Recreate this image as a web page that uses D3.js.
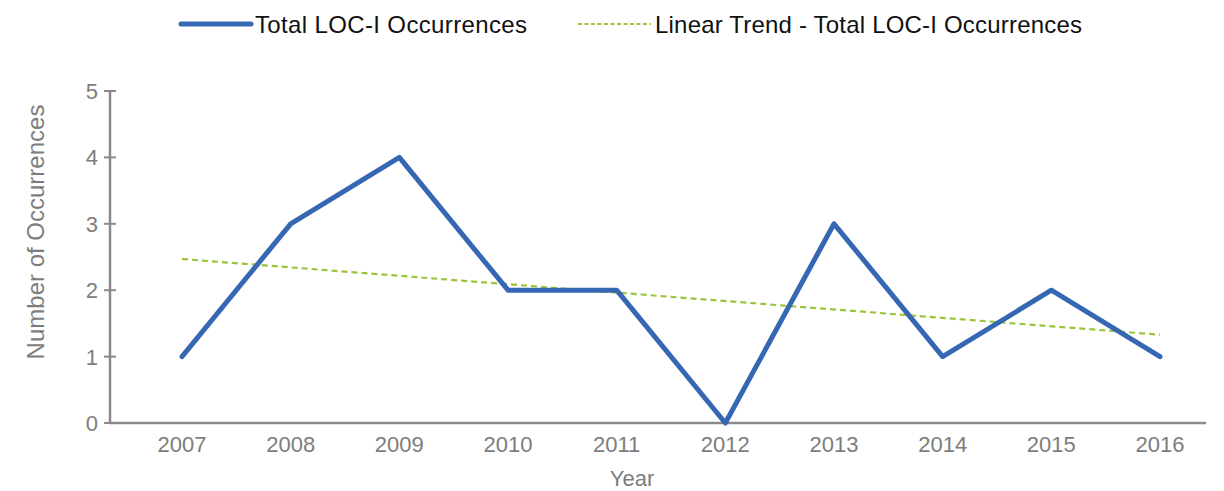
<!DOCTYPE html>
<html><head><meta charset="utf-8">
<script src="https://cdn.jsdelivr.net/npm/d3@7"></script>
<style>body{margin:0;background:#fff;} svg{display:block;font-family:"Liberation Sans",Arial,sans-serif;}</style>
</head><body>
<svg id="c" width="1224" height="491"></svg>
<script>
const years = [2007, 2008, 2009, 2010, 2011, 2012, 2013, 2014, 2015, 2016];
const occurrences = [1, 3, 4, 2, 2, 0, 3, 1, 2, 1];
const trendYears = [2007, 2016];
const trendValues = [2.47, 1.33];
const yTicks = [0, 1, 2, 3, 4, 5];
const seriesNames = ["Total LOC-I Occurrences", "Linear Trend - Total LOC-I Occurrences"];

const svg = d3.select("#c");
const axisColor = "#8a8a8a";
const labelColor = "#7d7d7d";
const blue = "#3667b3";
const green = "#9cc43a";

const x = d3.scalePoint().domain(years).range([182, 1160]);
const y = d3.scaleLinear().domain([0, 5]).range([423, 91]);
const axisLeft = 110, axisRight = 1206;

// axes lines
svg.append("line").attr("x1", axisLeft).attr("x2", axisRight).attr("y1", y(0)).attr("y2", y(0))
  .attr("stroke", axisColor).attr("stroke-width", 2.5);
svg.append("line").attr("x1", axisLeft).attr("x2", axisLeft).attr("y1", y(0)).attr("y2", y(5))
  .attr("stroke", axisColor).attr("stroke-width", 2.5);

// y ticks
const yg = svg.append("g");
yTicks.forEach(t => {
  yg.append("line").attr("x1", axisLeft - 6).attr("x2", axisLeft + 6).attr("y1", y(t)).attr("y2", y(t))
    .attr("stroke", axisColor).attr("stroke-width", 2);
  yg.append("text").attr("x", axisLeft - 12).attr("y", y(t)).attr("dy", "0.36em")
    .attr("text-anchor", "end").attr("font-size", 22).attr("fill", labelColor).text(t);
});

// x labels
svg.append("g").selectAll("text").data(years).join("text")
  .attr("x", d => x(d)).attr("y", 444).attr("dy", "0.36em").attr("text-anchor", "middle")
  .attr("font-size", 22).attr("fill", labelColor).text(d => d);

// axis titles
svg.append("text").attr("x", 632).attr("y", 478).attr("dy", "0.36em").attr("text-anchor", "middle")
  .attr("font-size", 22).attr("fill", labelColor).text("Year");
svg.append("text").attr("transform", "translate(35,232) rotate(-90)").attr("dy", "0.36em").attr("text-anchor", "middle")
  .attr("font-size", 24).attr("fill", labelColor).text("Number of Occurrences");

// trend line
svg.append("path").datum(trendYears.map((yr, i) => [yr, trendValues[i]]))
  .attr("d", d3.line().x(d => x(d[0])).y(d => y(d[1])))
  .attr("fill", "none").attr("stroke", green).attr("stroke-width", 2.2).attr("stroke-dasharray", "6,4");

// main line
svg.append("path").datum(years.map((yr, i) => [yr, occurrences[i]]))
  .attr("d", d3.line().x(d => x(d[0])).y(d => y(d[1])))
  .attr("fill", "none").attr("stroke", blue).attr("stroke-width", 5)
  .attr("stroke-linejoin", "round").attr("stroke-linecap", "round");

// legend
const lg = svg.append("g");
lg.append("line").attr("x1", 181).attr("x2", 251).attr("y1", 24).attr("y2", 24)
  .attr("stroke", blue).attr("stroke-width", 5).attr("stroke-linecap", "round");
lg.append("text").attr("x", 255).attr("y", 24).attr("dy", "0.36em").attr("font-size", 24)
  .attr("fill", "#111").attr("textLength", 272).text(seriesNames[0]);
lg.append("line").attr("x1", 578).attr("x2", 651).attr("y1", 24).attr("y2", 24)
  .attr("stroke", green).attr("stroke-width", 2).attr("stroke-dasharray", "4,2.5");
lg.append("text").attr("x", 655).attr("y", 24).attr("dy", "0.36em").attr("font-size", 24)
  .attr("fill", "#111").attr("textLength", 427).text(seriesNames[1]);
</script>
</body></html>
